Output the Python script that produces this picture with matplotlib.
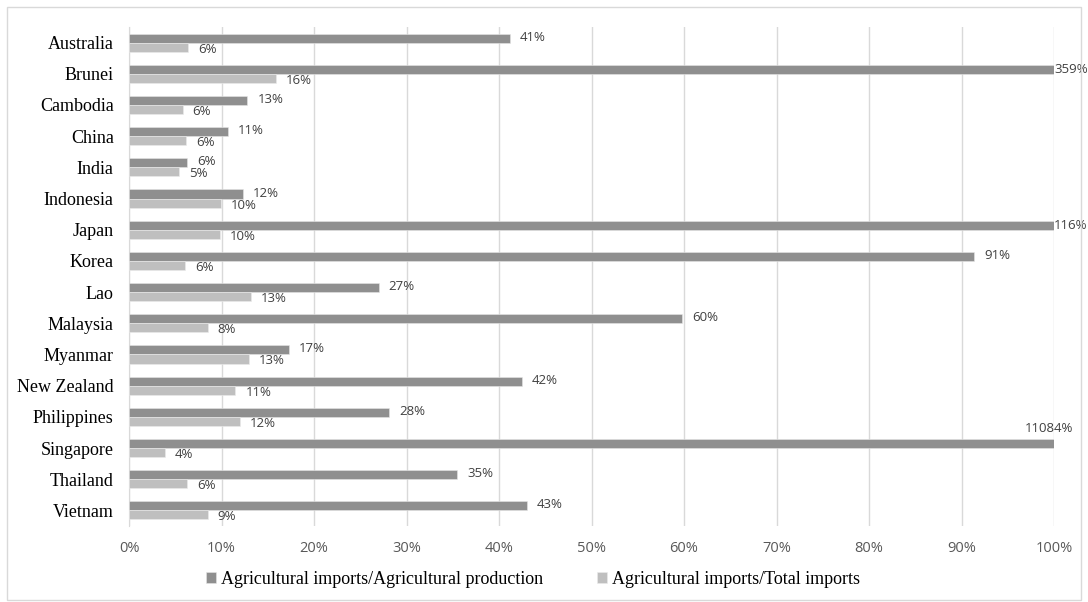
import matplotlib
matplotlib.use("Agg")
import matplotlib.pyplot as plt
from matplotlib.patches import Rectangle

# data (ratios, 1.0 = 100%)
countries = ['Australia', 'Brunei', 'Cambodia', 'China', 'India', 'Indonesia',
             'Japan', 'Korea', 'Lao', 'Malaysia', 'Myanmar', 'New Zealand',
             'Philippines', 'Singapore', 'Thailand', 'Vietnam']
agri_prod = [0.412, 3.59, 0.128, 0.107, 0.063, 0.123,
             1.16, 0.914, 0.270, 0.598, 0.173, 0.425,
             0.281, 110.84, 0.355, 0.430]
agri_total = [0.064, 0.159, 0.058, 0.062, 0.054, 0.099,
              0.098, 0.061, 0.132, 0.085, 0.130, 0.115,
              0.120, 0.039, 0.063, 0.085]
prod_labels = ['41%', '359%', '13%', '11%', '6%', '12%', '116%', '91%',
               '27%', '60%', '17%', '42%', '28%', '11084%', '35%', '43%']
total_labels = ['6%', '16%', '6%', '6%', '5%', '10%', '10%', '6%',
                '13%', '8%', '13%', '11%', '12%', '4%', '6%', '9%']
series_names = ['Agricultural imports/Agricultural production',
                'Agricultural imports/Total imports']
xticks = [0, 0.1, 0.2, 0.3, 0.4, 0.5, 0.6, 0.7, 0.8, 0.9, 1.0]

DARK = '#8f8f8f'
LIGHT = '#bfbfbf'
SERIF = ['Liberation Serif', 'DejaVu Serif']
SANS = ['Open Sans', 'DejaVu Sans']

fig = plt.figure(figsize=(10.88, 6.02), dpi=100)
fig.patches.append(Rectangle((7 / 1088, 2 / 602), 1074 / 1088, 593 / 602,
                             transform=fig.transFigure, fill=False,
                             edgecolor='#d9d9d9', linewidth=1))

ax = fig.add_axes([129 / 1088, 1 - 526 / 602, 925 / 1088, 499 / 602])

h = 0.29
y = list(range(len(countries)))
y_dark = [v - h / 2 for v in y]
y_light = [v + h / 2 for v in y]

ax.barh(y_dark, agri_prod, height=h, color=DARK, edgecolor='#e6e6e6',
        linewidth=0.4, label=series_names[0], zorder=3)
ax.barh(y_light, agri_total, height=h, color=LIGHT, edgecolor='#ececec',
        linewidth=0.4, label=series_names[1], zorder=3)

ax.set_xlim(0, 1)
ax.set_ylim(len(countries) - 0.5, -0.5)
ax.set_yticks(y)
ax.set_yticklabels(countries, fontsize=13, family=SERIF, color='#000000')
ax.set_xticks(xticks)
ax.set_xticklabels([f'{int(round(t * 100))}%' for t in xticks],
                   fontsize=10.5, family=SANS, color='#595959')
ax.tick_params(axis='both', length=0)
ax.tick_params(axis='x', pad=11)
ax.tick_params(axis='y', pad=11)
ax.grid(axis='x', color='#d9d9d9', linewidth=1, zorder=0)
for s in ['top', 'right', 'bottom']:
    ax.spines[s].set_visible(False)
ax.spines['left'].set_color('#d9d9d9')

# data labels
lab = dict(fontsize=9.5, family=SANS, color='#404040')
for i in range(len(countries)):
    v = agri_prod[i]
    if v > 10:
        ax.annotate(prod_labels[i], xy=(1.0, y_dark[i]), xytext=(19, 15),
                    textcoords='offset pixels', ha='right', va='center',
                    annotation_clip=False, **lab)
    elif v > 1:
        ax.annotate(prod_labels[i], xy=(1.0, y_dark[i]), xytext=(0, 0),
                    textcoords='offset pixels', ha='left', va='center',
                    annotation_clip=False, **lab)
    else:
        ax.annotate(prod_labels[i], xy=(v, y_dark[i]), xytext=(10, 1),
                    textcoords='offset pixels', ha='left', va='center', **lab)
    ax.annotate(total_labels[i], xy=(agri_total[i], y_light[i]),
                xytext=(10, -2), textcoords='offset pixels', ha='left',
                va='center', **lab)

fig.legend(loc='center', bbox_to_anchor=(533 / 1088, 1 - 579 / 602), ncol=2,
           frameon=False, prop={'family': SERIF, 'size': 13},
           handlelength=0.55, handleheight=0.55, handletextpad=0.25,
           columnspacing=3.0)

fig.savefig('out.png', dpi=100)
